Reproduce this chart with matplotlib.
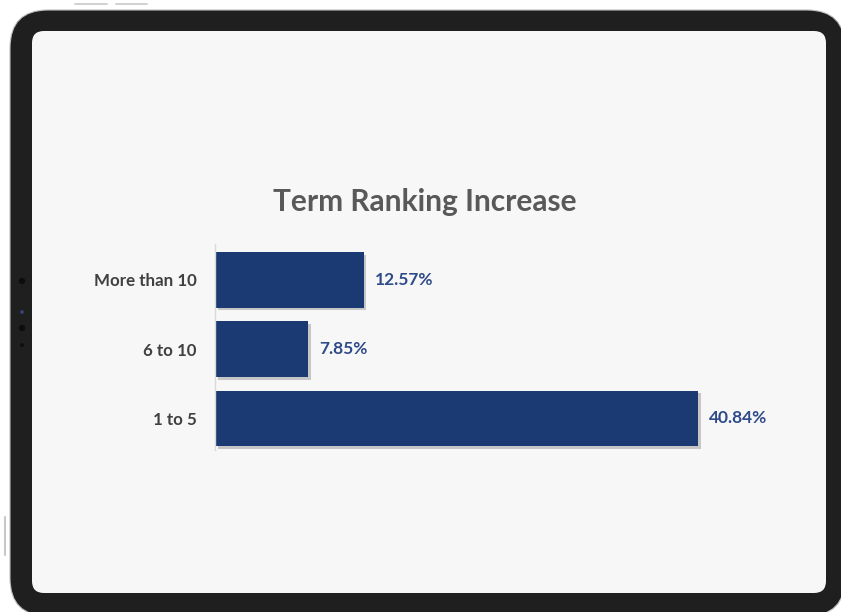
import matplotlib
matplotlib.use("Agg")
import matplotlib.pyplot as plt
from matplotlib.patches import FancyBboxPatch
import matplotlib.patheffects as pe

categories = ["1 to 5", "6 to 10", "More than 10"]
values = [40.84, 7.85, 12.57]
value_labels = ["40.84%", "7.85%", "12.57%"]
title = "Term Ranking Increase"

W, H = 841, 612
fig = plt.figure(figsize=(W / 100, H / 100), dpi=100)
fig.patch.set_facecolor("white")

# Device frame drawn in pixel coordinates
bg = fig.add_axes([0, 0, 1, 1])
bg.set_xlim(0, W)
bg.set_ylim(H, 0)
bg.axis("off")
# small top buttons
bg.plot([75, 107], [4, 4], color="#c8c8c8", lw=1.2, solid_capstyle="round")
bg.plot([116, 147], [4, 4], color="#c8c8c8", lw=1.2, solid_capstyle="round")
bg.plot([5, 5], [517, 555], color="#c8c8c8", lw=1.5, solid_capstyle="round")
outer = FancyBboxPatch((10, 10), 835, 606, boxstyle="round,pad=0,rounding_size=38",
                       facecolor="#1f1f1f", edgecolor="#bdbdbd", lw=0.8)
bg.add_patch(outer)
inner = FancyBboxPatch((32, 31), 794, 562, boxstyle="round,pad=0,rounding_size=12",
                       facecolor="#f7f7f7", edgecolor="none")
bg.add_patch(inner)
# camera dots on left bezel
for yy in [281, 328]:
    bg.add_patch(plt.Circle((22, yy), 2.5, color="#0d0d0d"))
bg.add_patch(plt.Circle((22, 345), 1.2, color="#0d0d0d"))
bg.add_patch(plt.Circle((22, 312), 1.0, color="#3a4a8a"))

# Chart axes
ax = fig.add_axes([215 / W, (H - 450) / H, 532 / W, 206 / H])
ax.set_facecolor("none")
bar_color = "#1b3a73"
bars = ax.barh(range(len(categories)), values, height=0.8, color=bar_color,
               path_effects=[pe.SimplePatchShadow(offset=(2, -2), alpha=0.3, shadow_rgbFace="#555555"), pe.Normal()])
ax.set_xlim(0, 45)
ax.set_ylim(-0.46, 2.52)
ax.set_yticks(range(len(categories)))
ax.set_yticklabels(categories, fontfamily="Lato", fontweight="bold", fontsize=12.2, color="#404040")
ax.tick_params(axis="y", length=0, pad=13)
ax.set_xticks([])
for s in ["top", "right", "bottom"]:
    ax.spines[s].set_visible(False)
ax.spines["left"].set_color("#d9d9d9")
ax.spines["left"].set_linewidth(1)

for i, (v, lab) in enumerate(zip(values, value_labels)):
    ax.annotate(lab, xy=(v, i), xytext=(8, 0), textcoords="offset points",
                va="center", ha="left", fontfamily="Lato", fontweight="bold",
                fontsize=12.5, color="#2e4a8a")

fig.text(425 / W, 1 - 202 / H, title, ha="center", va="center",
         fontfamily="Lato", fontweight="bold", fontsize=21.5, color="#595959")

fig.savefig("out.png", dpi=100)
